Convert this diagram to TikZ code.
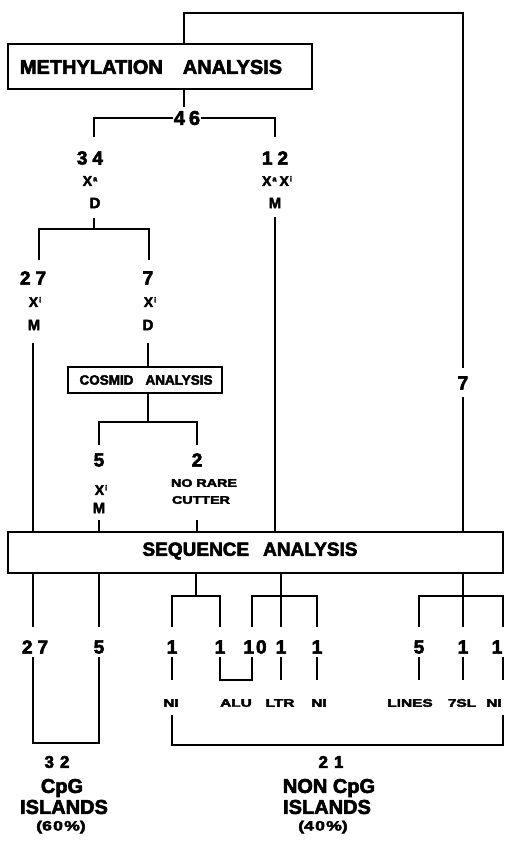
\documentclass[tikz,border=0pt]{standalone}
\usepackage{fontspec}
\usepackage{graphicx}
\setmainfont{Liberation Sans}[BoldFeatures={FakeBold=3}]
\newcommand{\xwide}[2]{\scalebox{#1}[1]{#2}}
\newcommand{\supx}[1]{\kern1pt\raisebox{4.5pt}{\fontsize{7.5}{7.5}\selectfont #1}}
\tikzset{
  ln/.style={line width=2.4pt, line join=miter},
  box/.style={draw, line width=2.6pt, inner sep=0pt},
  fs/.style={font={\bfseries\fontsize{#1}{#1}\selectfont}, inner sep=1pt},
  fs/.default=17,
  lab/.style={fs=11}
}
\begin{document}
\begin{tikzpicture}[x=1pt,y=-1pt]
\useasboundingbox (0,0) rectangle (504,847);

% ---------- boxes ----------
\node[box, minimum width=304pt, minimum height=45pt] (meth) at (160,66.5) {};
\node[fs=20] (methtxt) at (151,67) {METHYLATION\hspace{20pt}ANALYSIS};
\node[box, minimum width=154pt, minimum height=26pt] (cos) at (145,380) {};
\node[fs=13.5] (costxt) at (146,380) {COSMID\hspace{12pt}ANALYSIS};
\node[box, minimum width=495pt, minimum height=41pt] (seq) at (255.5,552.5) {};
\node[fs=19] (seqtxt) at (250,551) {SEQUENCE\hspace{14pt}ANALYSIS};

% ---------- upper labels ----------
\node[fs=20] (n46) at (187,118) {4\kern4pt6};
\node[fs=19] (n34) at (90,158) {3\kern5pt4};
\node[fs=14] (x34) at (90,181) {X\supx{a}};
\node[fs=15] (d34) at (95,203) {D};
\node[fs=19] (n12) at (275,158) {1\kern5pt2};
\node[fs=14] (x12) at (277,181) {X\supx{a}\kern3pt X\supx{i}};
\node[fs=15] (m12) at (275,203) {M};
\node[fs=19] (n27) at (33,278) {2\kern5pt7};
\node[fs=14] (x27) at (35,302) {X\supx{i}};
\node[fs=15] (m27) at (34,325) {M};
\node[fs=19] (n7) at (148,278) {7};
\node[fs=14] (x7) at (150,302) {X\supx{i}};
\node[fs=15] (d7) at (148,325) {D};
\node[fs=19] (n7r) at (463,383) {7};
\node[fs=19] (n5) at (99,460) {5};
\node[fs=14] (x5) at (101,490) {X\supx{i}};
\node[fs=15] (m5) at (99,508) {M};
\node[fs=19] (n2) at (197,460) {2};
\node[fs=11] (nr1) at (204,483) {\xwide{1.3}{NO RARE}};
\node[fs=11] (nr2) at (201,500) {\xwide{1.3}{CUTTER}};

% ---------- lower numbers ----------
\node[fs=19] (b27) at (35,647) {2\kern5pt7};
\node[fs=19] (b5) at (99,647) {5};
\node[fs=19] (b1a) at (172,647) {1};
\node[fs=19] (b1b) at (220,647) {1};
\node[fs=19] (b10) at (255,647) {1\kern2pt0};
\node[fs=19] (b1c) at (281,647) {1};
\node[fs=19] (b1d) at (317,647) {1};
\node[fs=19] (b5b) at (419,647) {5};
\node[fs=19] (b1e) at (463,647) {1};
\node[fs=19] (b1f) at (497,647) {1};

\node[lab] (lni1) at (171,703) {\xwide{1.4}{NI}};
\node[lab] (lalu) at (236,703) {\xwide{1.4}{ALU}};
\node[lab] (lltr) at (280,703) {\xwide{1.4}{LTR}};
\node[lab] (lni2) at (319,703) {\xwide{1.4}{NI}};
\node[lab] (llin) at (410,703) {\xwide{1.4}{LINES}};
\node[lab] (l7sl) at (462,703) {\xwide{1.4}{7SL}};
\node[lab] (lni3) at (494,703) {\xwide{1.4}{NI}};

\node[fs=17] (n32) at (57,762) {3\kern6pt2};
\node[fs=20] (cpg1) at (62,788) {CpG};
\node[fs=20] (isl1) at (64,807) {ISLANDS};
\node[fs=13.5] (pc1) at (61,827) {\xwide{1.3}{(6\kern1pt0\kern1pt\%)}};
\node[fs=17] (n21) at (331,762) {2\kern6pt1};
\node[fs=20] (cpg2) at (329,788) {NON CpG};
\node[fs=20] (isl2) at (327,807) {ISLANDS};
\node[fs=13.5] (pc2) at (323,827) {\xwide{1.3}{(4\kern1pt0\kern1pt\%)}};

% ---------- coordinates ----------
\coordinate (topL) at (184,13);
\coordinate (topR) at (463,13);
\coordinate (r7a) at (463,368);
\coordinate (r7b) at (463,397);
\coordinate (j46) at (184,107);
\coordinate (c34) at (94,137);
\coordinate (c12) at (275,137);
\coordinate (d34b) at (94,218);
\coordinate (j34) at (94,229);
\coordinate (c27) at (39,260);
\coordinate (c7) at (149,260);
\coordinate (m12b) at (275,217);
\coordinate (m27b) at (33,343);
\coordinate (d7b) at (148,343);
\coordinate (jc) at (148,422);
\coordinate (c5) at (99,445);
\coordinate (c2) at (197,445);
\coordinate (m5b) at (99,520);
\coordinate (c2b) at (197,520);
\coordinate (l27) at (33,627);
\coordinate (l5) at (99,627);
\coordinate (jA) at (196,596);
\coordinate (t1) at (172,627);
\coordinate (t2) at (220,627);
\coordinate (jB) at (281,596);
\coordinate (t3) at (252,627);
\coordinate (t4) at (281,627);
\coordinate (t5) at (317,627);
\coordinate (jC) at (463,596);
\coordinate (t6) at (419,627);
\coordinate (t7) at (463,627);
\coordinate (t8) at (503,627);

% ---------- connectors ----------
\draw[ln] (meth.north -| topL) -- (topL) -- (topR) -- (r7a);
\draw[ln] (r7b) -- (r7b |- seq.north);
\draw[ln] (meth.south -| topL) -- (j46);
\draw[ln] (n46.west) -| (c34);
\draw[ln] (n46.east) -| (c12);
\draw[ln] (d34b) -- (j34);
\draw[ln] (c27) |- (j34) -| (c7);
\draw[ln] (m12b) -- (m12b |- seq.north);
\draw[ln] (m27b) -- (m27b |- seq.north);
\draw[ln] (d7b) -- (d7b |- cos.north);
\draw[ln] (cos.south -| jc) -- (jc);
\draw[ln] (c5) |- (jc) -| (c2);
\draw[ln] (m5b) -- (m5b |- seq.north);
\draw[ln] (c2b) -- (c2b |- seq.north);

\draw[ln] (seq.south -| l27) -- (l27);
\draw[ln] (seq.south -| l5) -- (l5);
\draw[ln] (seq.south -| jA) -- (jA);
\draw[ln] (t1) |- (jA) -| (t2);
\draw[ln] (seq.south -| jB) -- (jB) -- (t4);
\draw[ln] (t3) |- (jB) -| (t5);
\draw[ln] (seq.south -| jC) -- (jC) -- (t7);
\draw[ln] (t6) |- (jC) -| (t8);

% short lines below numbers
\foreach \x/\nm in {172/a,281/c,317/d,419/e,463/f,503/g}{
  \coordinate (s\nm) at (\x,657);
  \coordinate (e\nm) at (\x,680);
  \draw[ln] (s\nm) -- (e\nm);
}
\coordinate (sAlu) at (220,657);
\coordinate (eAlu) at (220,680);
\coordinate (sTen) at (252,657);
\coordinate (eTen) at (252,680);
\draw[ln] (sAlu) -- (eAlu) -- (eTen) -- (sTen);

% bottom brackets
\coordinate (s27) at (33,657);
\coordinate (k27) at (33,743);
\coordinate (k5) at (99,743);
\coordinate (s5) at (99,657);
\draw[ln] (s27) -- (k27) -- (k5) -- (s5);
\coordinate (q1) at (172,715);
\coordinate (k1) at (172,745);
\coordinate (k8) at (503,745);
\coordinate (q8) at (503,715);
\draw[ln] (q1) -- (k1) -- (k8) -- (q8);
\end{tikzpicture}
\end{document}
